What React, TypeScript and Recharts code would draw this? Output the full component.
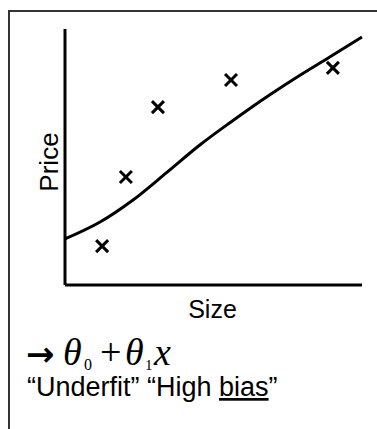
import { ComposedChart, Label, Line, Scatter, XAxis, YAxis } from 'recharts'

// training examples (size, price) on a 0-100 scale
const sizes = [12.5, 20.5, 31.3, 55.9, 90.2]
const prices = [15.2, 42.2, 69.5, 80.1, 84.8]

// hypothesis curve
const fitSizes = [0, 11.8, 22.9, 34.3, 45.5, 56, 66, 77, 89, 100]
const fitPrices = [18.0, 24.6, 33.2, 44.0, 54.8, 63.8, 72.0, 80.4, 89.0, 96.9]

const points = sizes.map((size, i) => ({ size, price: prices[i] }))
const fitLine = fitSizes.map((size, i) => ({ size, price: fitPrices[i] }))

const SANS = '"Liberation Sans", Arial, sans-serif'
const SERIF = '"Liberation Serif", "Times New Roman", serif'

function Cross(props: any) {
  const { cx, cy } = props
  const r = 6
  return (
    <g stroke="#000" strokeWidth={3}>
      <line x1={cx - r} y1={cy - r} x2={cx + r} y2={cy + r} />
      <line x1={cx - r} y1={cy + r} x2={cx + r} y2={cy - r} />
    </g>
  )
}

function PriceLabel(props: any) {
  const { x, y, width, height } = props.viewBox
  const lx = x + width - 7
  const ly = y + height / 2 + 5
  return (
    <text
      x={lx}
      y={ly}
      textAnchor="middle"
      fontFamily={SANS}
      fontSize={26}
      fill="#000"
      transform={`rotate(-90, ${lx}, ${ly})`}
    >
      Price
    </text>
  )
}

function SizeLabel(props: any) {
  const { x, y, width } = props.viewBox
  return (
    <text
      x={x + width / 2 - 1}
      y={y + 33}
      textAnchor="middle"
      fontFamily={SANS}
      fontSize={25}
      fill="#000"
    >
      Size
    </text>
  )
}

export default function App() {
  return (
    <div style={{ position: 'absolute', left: 0, top: 0, width: 377, height: 429, background: '#fff' }}>
      <div
        style={{
          position: 'absolute',
          left: 8,
          top: 10,
          width: 367,
          height: 417,
          borderTop: '2px solid #333',
          borderLeft: '2px solid #333',
        }}
      />
      <div style={{ position: 'absolute', left: 0, top: 0 }}>
        <ComposedChart
          width={377}
          height={429}
          margin={{ top: 29, right: 15, bottom: 134, left: 55 }}
        >
          <XAxis
            dataKey="size"
            type="number"
            domain={[0, 100]}
            height={10}
            tick={false}
            tickLine={false}
            axisLine={{ stroke: '#000', strokeWidth: 3 }}
          >
            <Label content={SizeLabel} />
          </XAxis>
          <YAxis
            dataKey="price"
            type="number"
            domain={[0, 100]}
            width={10}
            tick={false}
            tickLine={false}
            axisLine={{ stroke: '#000', strokeWidth: 3 }}
          >
            <Label content={PriceLabel} />
          </YAxis>
          <Line
            data={fitLine}
            dataKey="price"
            type="monotone"
            stroke="#000"
            strokeWidth={3}
            dot={false}
            activeDot={false}
            isAnimationActive={false}
          />
          <Scatter data={points} dataKey="price" shape={Cross} isAnimationActive={false} />
        </ComposedChart>
      </div>
      <svg
        width={377}
        height={429}
        style={{ position: 'absolute', left: 0, top: 0, pointerEvents: 'none' }}
      >
        <text x={26} y={366} fontFamily='"DejaVu Sans", sans-serif' fontWeight="bold" fontSize={34} fill="#000">
          →
        </text>
        <g fontFamily={SERIF} fill="#000">
          <text x={63} y={365} fontSize={38} fontStyle="italic">θ</text>
          <text x={84} y={370} fontSize={16}>0</text>
          <text x={100} y={365} fontSize={38}>+</text>
          <text x={125} y={365} fontSize={38} fontStyle="italic">θ</text>
          <text x={145} y={370} fontSize={15}>1</text>
          <text x={154} y={365} fontSize={38} fontStyle="italic">x</text>
        </g>
        <text x={27} y={396} fontFamily={SANS} fontSize={27} fill="#000">
          “Underfit” “High <tspan textDecoration="underline">bias</tspan>”
        </text>
      </svg>
    </div>
  )
}
